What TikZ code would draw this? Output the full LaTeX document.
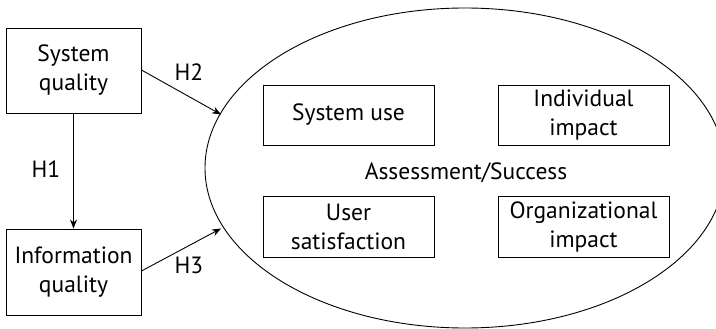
\documentclass[tikz,border=0pt]{standalone}
\usepackage{fontspec}
\setmainfont{PT Sans}
\usetikzlibrary{arrows.meta}
\begin{document}
\begin{tikzpicture}[x=1pt,y=-1pt,
  box/.style={draw,line width=0.9pt,inner sep=0pt,align=center,font=\fontsize{23.5}{29}\selectfont},
  lbl/.style={font=\fontsize{23.5}{29}\selectfont,inner sep=0pt},
  arr/.style={line width=0.9pt,-{Stealth[length=9pt,width=7pt]}}]
\useasboundingbox (0,0) rectangle (716,329);
\begin{scope}
\clip (0,0) rectangle (716,329);
\draw[line width=0.9pt] (465,168) ellipse [x radius=260, y radius=160];
\end{scope}
\node[box,minimum width=135,minimum height=85] (sq) at (73.5,70.5) {System\\quality};
\node[box,minimum width=135,minimum height=86] (iq) at (73.5,272) {Information\\quality};
\node[box,minimum width=171,minimum height=60] (su) at (348.5,115) {System use};
\node[box,minimum width=171,minimum height=60] (ii) at (583.5,115) {Individual\\impact};
\node[box,minimum width=171,minimum height=61] (us) at (348.5,226.5) {User\\satisfaction};
\node[box,minimum width=171,minimum height=61] (oi) at (583.5,226.5) {Organizational\\impact};
\node[lbl] (as) at (466,172.5) {Assessment/Success};
\coordinate (e2) at (221,114.5);
\coordinate (e3) at (221,228.5);
\draw[arr] (sq.east |- 0,70) -- (e2);
\draw[arr] (iq.east |- 0,271) -- (e3);
\draw[arr] (sq) -- (iq);
\node[lbl] (h1) at (46,169) {H1};
\node[lbl] (h2) at (189,72) {H2};
\node[lbl] (h3) at (189,265) {H3};
\end{tikzpicture}
\end{document}
